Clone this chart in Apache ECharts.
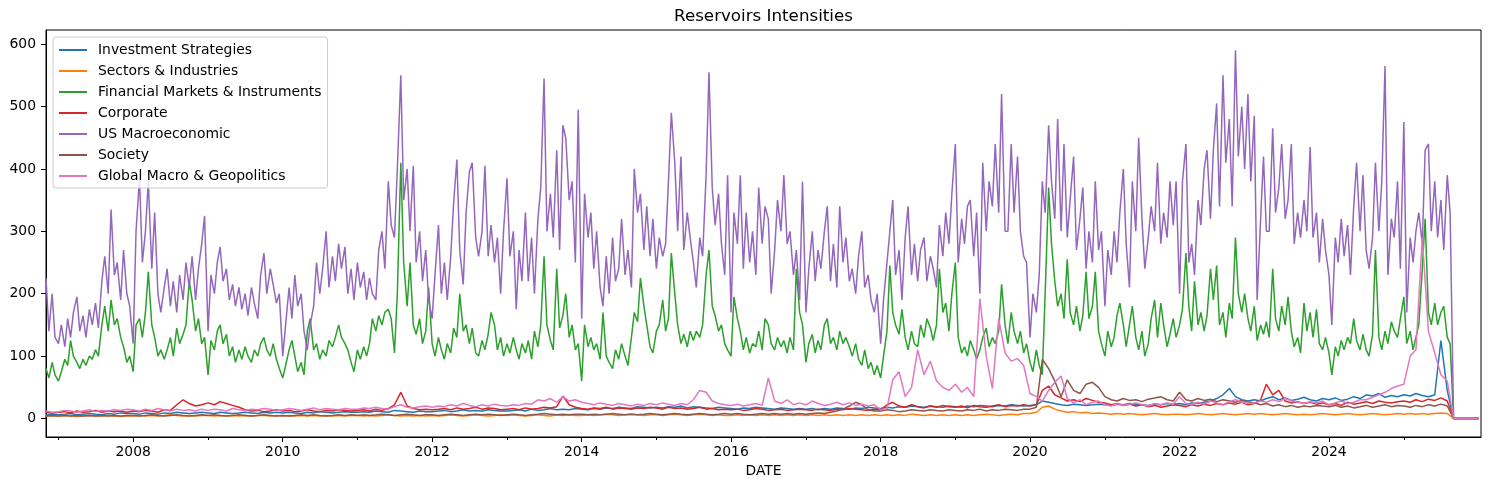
<!DOCTYPE html>
<html>
<head>
<meta charset="utf-8">
<script src="https://cdn.jsdelivr.net/npm/echarts@6.0.0/dist/echarts.min.js"></script>
<style>
html,body{margin:0;padding:0;background:#fff;}
#chart{width:1490px;height:490px;}
</style>
</head>
<body>
<div id="chart"></div>
<script>
// ---------------- DATA ----------------
const seriesNames = ["Investment Strategies","Sectors & Industries","Financial Markets & Instruments","Corporate","US Macroeconomic","Society","Global Macro & Geopolitics"];
const yTickValues = [0,100,200,300,400,500,600];
const majorTickYears = [2008,2010,2012,2014,2016,2018,2020,2022,2024];
const minorTickYears = [2007,2009,2011,2013,2015,2017,2019,2021,2023,2025];

// semi-monthly values (1st & 15th of each month, from 2006-11-01)
const usMacro = [
225,140,200,130,120,150,115,160,130,170,195,140,165,130,175,150,185,145,220,260,200,335,230,250,190,270,200,180,120,300,385,250,300,380,240,330,200,170,210,
240,180,220,170,230,190,250,210,260,190,240,280,325,140,230,200,250,275,220,240,190,215,180,210,175,200,165,210,185,160,230,265,200,240,215,185,200,100,150,
210,160,230,180,200,140,110,150,180,250,200,240,300,210,260,220,280,240,275,200,240,190,250,210,235,190,225,200,190,270,300,240,380,310,290,400,550,350,400,
300,405,250,300,220,270,190,160,230,310,200,250,190,260,345,415,270,215,330,395,410,290,260,300,405,260,310,250,290,200,300,385,260,300,175,270,220,330,
220,290,200,320,370,545,300,360,290,430,270,470,450,350,380,250,495,160,360,290,330,240,300,210,180,260,200,290,220,240,320,230,270,210,400,330,360,270,340,
260,320,240,290,260,280,380,490,410,300,420,270,330,290,250,210,290,260,390,555,370,310,360,280,230,390,170,330,280,390,240,330,250,300,230,370,280,340,
320,200,270,350,300,390,280,300,230,270,190,380,170,240,300,220,270,240,300,340,220,280,210,340,250,290,220,240,200,260,300,210,230,190,170,200,120,190,250,
300,350,230,270,190,290,340,230,280,220,270,290,220,260,240,210,310,260,330,280,360,440,250,320,280,340,350,260,330,200,410,300,380,340,440,330,520,300,300,
440,330,420,300,260,250,130,200,170,230,380,330,470,380,320,480,300,440,290,350,420,270,320,370,240,300,250,380,270,300,180,270,230,300,250,330,400,280,
210,380,300,450,320,240,290,340,300,410,280,330,290,380,310,380,200,380,440,250,280,230,350,310,400,430,320,430,505,340,550,410,480,340,590,420,500,400,520,
380,485,190,320,420,300,300,465,330,370,440,320,350,440,280,330,290,350,300,435,290,330,250,320,270,230,150,290,250,320,260,310,230,340,410,300,390,270,
240,290,410,300,380,565,230,320,290,380,240,475,170,290,250,300,330,280,430,440,300,380,290,350,270,390,330,0,0,0,0,0,0,0,0,0
];
const finMarkets = [
80,65,90,70,60,75,95,85,125,100,90,80,95,85,100,95,110,100,150,180,140,190,150,160,130,115,90,100,75,150,160,130,170,235,150,130,100,110,95,
110,130,100,145,120,135,150,220,190,140,160,120,130,70,125,110,140,150,120,135,100,115,90,110,95,115,100,90,110,100,120,130,110,100,120,95,80,65,85,
110,125,100,75,90,70,140,160,110,120,95,110,100,125,115,130,150,130,120,110,90,75,110,95,115,100,120,160,140,165,150,170,175,160,105,200,410,250,180,
250,150,135,160,120,140,210,120,100,130,110,95,120,105,145,130,200,140,150,120,145,105,100,125,110,135,170,150,110,130,100,120,105,130,110,95,120,105,
125,95,140,115,150,260,150,125,110,240,145,165,200,130,150,110,120,60,150,115,130,110,120,95,170,100,90,80,110,95,120,100,85,130,170,155,225,180,150,
115,105,140,150,190,140,160,265,200,150,120,135,115,140,125,140,130,150,230,270,180,165,140,150,120,110,100,195,160,140,110,130,105,120,115,140,110,160,
150,120,110,130,115,125,105,130,110,240,170,150,90,120,135,105,125,110,150,160,120,130,110,140,120,130,115,100,120,95,85,110,80,90,70,85,65,100,140,
245,170,150,135,175,130,110,140,120,115,150,130,160,145,125,150,240,170,185,140,200,250,130,105,115,100,125,110,95,110,130,145,115,130,120,140,215,150,120,
170,140,120,140,105,120,90,75,110,85,70,200,370,280,220,180,200,160,255,170,150,180,140,165,235,160,180,235,140,120,100,140,115,130,165,185,150,115,
150,180,130,110,140,100,120,160,190,130,185,150,115,135,160,130,150,175,265,180,140,220,150,170,140,165,240,190,245,150,170,130,185,160,290,200,170,200,160,
140,180,125,150,135,155,130,240,160,140,180,150,195,140,115,130,105,185,140,170,130,175,120,110,130,105,70,115,100,125,110,130,120,160,125,110,135,110,
100,135,270,130,110,140,120,155,140,130,160,195,120,140,110,130,150,240,320,170,150,185,150,170,180,130,120,0,0,0,0,0,0,0,0,0
];

// monthly values (1st of each month, from 2006-11-01)
const investment = [
6,7,
6,7,8,6,7,8,7,6,8,7,9,8,
8,7,9,8,7,9,8,10,9,8,9,10,
9,8,10,9,8,9,10,9,8,10,9,10,
9,10,9,8,10,9,11,10,9,10,11,10,
10,11,10,12,11,10,13,12,11,10,12,11,
11,12,13,11,12,14,12,13,12,14,13,12,
12,13,14,12,15,13,14,16,14,15,14,16,
15,14,16,15,17,16,18,17,16,19,18,17,
18,17,19,18,20,17,19,18,17,16,18,17,
16,15,17,16,18,17,16,15,17,16,15,16,
15,16,14,16,15,17,16,15,17,16,18,17,
16,18,17,19,18,20,19,18,20,19,18,20,
19,18,20,19,21,20,19,21,20,22,21,20,
21,22,28,26,24,22,21,23,22,21,22,23,
22,21,23,22,24,23,22,21,23,22,24,23,
24,22,25,24,26,28,32,38,48,35,30,28,
30,28,32,35,30,33,29,31,34,30,28,32,
30,33,29,31,35,32,38,36,40,34,37,35,
38,36,40,37,35,38,125,45,0,0,0,0,
0
];
const sectors = [
4,4,
4,5,4,3,4,5,4,4,5,4,3,4,
4,5,4,5,4,5,6,5,4,5,4,5,
5,4,5,4,5,4,5,4,5,5,4,5,
4,5,4,5,4,5,4,5,4,5,4,5,
5,4,5,4,5,6,5,4,5,4,5,4,
5,4,5,6,5,4,5,6,5,4,5,6,
5,6,5,4,5,6,5,4,6,5,6,5,
5,6,5,6,7,6,5,6,7,6,5,6,
6,5,6,7,6,5,6,7,6,5,6,5,
5,6,5,6,5,6,5,6,5,6,5,6,
5,6,5,6,5,6,5,6,5,6,5,6,
5,6,5,6,5,7,6,5,6,5,6,5,
6,5,6,5,6,7,6,5,6,7,6,8,
8,10,18,20,15,12,10,11,9,10,8,9,
8,7,8,7,8,7,6,7,8,7,6,7,
7,6,7,8,7,6,7,8,7,6,7,8,
7,8,7,6,7,8,7,6,7,6,7,8,
7,6,7,8,7,6,7,8,7,6,7,8,
7,8,7,8,7,8,9,8,0,0,0,0,
0
];
const corporate = [
10,9,
10,11,9,12,10,11,13,10,12,11,12,10,
12,11,13,12,10,14,13,22,30,24,20,22,
25,22,27,24,21,18,14,12,13,11,12,14,
12,13,11,12,14,12,11,13,12,14,13,12,
13,14,12,15,13,16,22,42,20,16,14,15,
14,15,16,14,17,15,16,18,15,17,16,14,
15,16,14,17,15,16,18,17,19,36,22,18,
16,15,17,16,18,15,17,16,15,17,16,18,
17,15,18,16,17,15,16,18,15,16,14,15,
14,15,13,14,16,15,13,14,15,13,14,15,
14,13,15,14,13,15,14,16,15,14,13,15,
14,22,26,20,18,22,19,17,20,18,21,19,
18,20,17,21,19,18,20,22,19,21,20,22,
20,22,45,52,38,33,28,30,27,32,29,26,
25,22,24,21,23,20,22,19,21,18,20,22,
21,19,22,20,23,21,24,22,25,23,26,22,
24,30,55,38,45,28,25,27,24,26,23,25,
22,24,21,26,23,25,27,24,28,26,25,27,
28,26,30,27,31,29,33,28,0,0,0,0,
0
];
const society = [
4,5,
4,5,4,5,4,5,4,5,4,5,4,5,
5,4,5,6,5,4,5,6,5,4,5,6,
5,6,5,4,5,6,5,4,5,6,5,4,
5,4,5,6,5,6,5,4,5,6,5,6,
5,6,5,6,7,6,5,6,7,6,5,6,
6,5,6,7,6,5,6,7,6,7,6,5,
6,7,6,5,6,7,8,7,6,7,6,7,
7,6,7,6,7,8,7,6,7,6,7,8,
7,6,7,8,7,6,7,8,7,6,7,8,
7,8,7,6,7,8,7,8,7,8,7,8,
7,8,9,8,10,12,15,20,26,22,14,12,
12,14,13,11,12,14,13,12,14,13,12,14,
13,12,14,13,15,12,14,13,15,14,13,15,
15,18,95,80,60,35,62,45,40,55,58,50,
35,30,28,32,29,30,27,31,33,35,30,28,
42,30,28,32,29,31,27,30,28,26,29,27,
25,22,24,20,22,19,21,18,20,19,21,20,
19,21,18,20,17,19,21,18,20,22,19,21,
20,18,21,19,22,20,23,20,0,0,0,0,
0
];
const globalMacro = [
12,10,
11,13,12,10,12,14,11,13,12,14,13,15,
14,12,15,13,16,14,12,15,13,14,12,15,
13,15,14,12,16,14,13,15,14,16,15,13,
14,16,15,13,15,17,14,16,15,14,16,15,
15,17,16,18,16,15,19,22,18,17,19,20,
18,20,19,22,20,24,21,19,22,20,23,21,
20,22,21,24,23,30,28,32,26,35,28,30,
26,24,22,25,23,21,24,22,20,23,21,24,
22,25,23,21,24,22,30,45,42,28,24,22,
21,23,20,22,24,21,65,28,24,30,22,25,
22,28,24,21,23,26,22,25,21,23,20,22,
14,16,62,75,35,50,110,70,92,60,50,45,
55,42,50,35,192,100,48,160,105,92,96,85,
40,35,28,45,58,68,32,25,30,22,26,28,
22,20,24,21,23,25,22,20,24,22,25,23,
35,24,22,26,23,28,25,22,27,30,26,24,
25,28,26,30,27,32,28,26,24,27,25,28,
22,25,28,24,26,30,30,34,38,42,48,52,
55,100,110,290,140,105,70,60,0,0,0,0,
0
];

// ---------------- CHART ----------------
const FONT = 'DejaVu Sans';
const colors = ['#1f77b4','#ff7f0e','#2ca02c','#d62728','#9467bd','#8c564b','#e377c2'];
const halfDates = usMacro.map((_, i) => new Date(2006, 10 + Math.floor(i / 2), (i % 2) ? 15 : 1).getTime());
const monthDates = investment.map((_, m) => new Date(2006, 10 + m, 1).getTime());
const pairs = (dates, vals) => vals.map((v, i) => [dates[i], v]);
const xMin = new Date(2006, 10, 1).getTime();
const xMax = new Date(2026, 0, 13).getTime();
const majorTicks = majorTickYears.map(y => new Date(y, 0, 1).getTime());
const minorTicks = minorTickYears.map(y => new Date(y, 0, 1).getTime());

const seriesData = [
  pairs(monthDates, investment),
  pairs(monthDates, sectors),
  pairs(halfDates, finMarkets),
  pairs(monthDates, corporate),
  pairs(halfDates, usMacro),
  pairs(monthDates, society),
  pairs(monthDates, globalMacro)
];

const chart = echarts.init(document.getElementById('chart'), null, {renderer: 'canvas'});
chart.setOption({
  animation: false,
  backgroundColor: '#ffffff',
  color: colors,
  title: {
    text: 'Reservoirs Intensities',
    left: 763.5, textAlign: 'center', top: 8, padding: 0,
    textStyle: {fontFamily: FONT, fontSize: 16.7, fontWeight: 'normal', color: '#000'}
  },
  legend: {
    orient: 'vertical', left: 53, top: 37,
    itemWidth: 28, itemHeight: 2, itemGap: 5, icon: 'rect',
    padding: [5, 6, 4, 6],
    backgroundColor: 'rgba(255,255,255,0.8)',
    borderColor: '#cccccc', borderWidth: 1, borderRadius: 3,
    selectedMode: false,
    textStyle: {fontFamily: FONT, fontSize: 13.9, color: '#000', lineHeight: 16, padding: [0, 0, 0, 6]},
    data: seriesNames
  },
  grid: {left: 46, right: 9, top: 30, bottom: 53, show: true, borderColor: '#000', borderWidth: 1},
  xAxis: [
    {
      type: 'value', min: xMin, max: xMax, scale: true,
      name: 'DATE', nameLocation: 'middle', nameGap: 27,
      nameTextStyle: {fontFamily: FONT, fontSize: 13.9, color: '#000'},
      axisLine: {show: true, onZero: false, lineStyle: {color: '#000', width: 1}},
      axisTick: {show: true, customValues: majorTicks, length: 5, lineStyle: {color: '#000', width: 1}},
      axisLabel: {customValues: majorTicks, formatter: v => String(new Date(v).getFullYear()),
        fontFamily: FONT, fontSize: 13.9, color: '#000', margin: 8},
      splitLine: {show: false}
    },
    {
      type: 'value', min: xMin, max: xMax, scale: true, position: 'bottom',
      axisLine: {show: false, onZero: false},
      axisTick: {show: true, customValues: minorTicks, length: 3, lineStyle: {color: '#000', width: 1}},
      axisLabel: {show: false},
      splitLine: {show: false}
    }
  ],
  yAxis: {
    type: 'value', min: -29.65, max: 622.65,
    axisLine: {show: true, onZero: false, lineStyle: {color: '#000', width: 1}},
    axisTick: {show: true, customValues: yTickValues, length: 5, lineStyle: {color: '#000', width: 1}},
    axisLabel: {customValues: yTickValues, fontFamily: FONT, fontSize: 13.9, color: '#000', margin: 10},
    splitLine: {show: false}
  },
  series: seriesNames.map((name, k) => ({
    name: name, type: 'line', xAxisIndex: 0, yAxisIndex: 0,
    data: seriesData[k], symbol: 'none', showSymbol: false,
    lineStyle: {width: 1.5, color: colors[k]},
    itemStyle: {color: colors[k]},
    emphasis: {disabled: true}
  }))
});
</script>
</body>
</html>
